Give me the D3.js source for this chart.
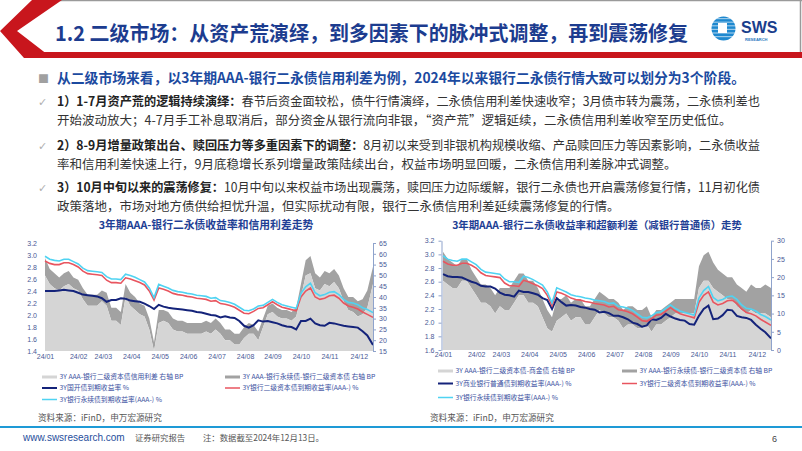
<!DOCTYPE html>
<html><head><meta charset="utf-8">
<script src="https://cdn.jsdelivr.net/npm/d3@7"></script>
<style>
body{margin:0;background:#fff;}
svg{display:block;font-family:"Noto Sans CJK SC","Noto Sans",sans-serif;}
</style>
</head><body><svg id="c" width="802" height="451"></svg>
<script>
// ---------------- DATA ----------------
const days = [0,5,10,15,20,25,30,35,40,45,50,55,60,65,70,75,80,85,90,95,
  100,105,110,115,120,125,130,135,140,145,150,155,160,165,170,175,180,185,190,195,
  200,205,210,215,220,225,230,235,240,245,250,255,260,265,270,275,280,285,290,295,
  300,305,310,315,320,325,330,335,340,346];
const monthTicks = [0,35,61,91,121,151,181,211,240,270,300,331];
const monthLabels = ["24/01","24/02","24/03","24/04","24/05","24/06","24/07","24/08","24/09","24/10","24/11","24/12"];

// 3Y国开债到期收益率 %
const cdbYield = [2.40,2.40,2.40,2.41,2.42,2.41,2.40,2.37,2.34,2.33,2.32,2.31,2.28,2.22,2.25,2.25,2.28,2.27,2.24,2.23,
 2.22,2.19,2.15,2.10,2.17,2.14,2.12,2.11,2.10,2.09,2.08,2.07,2.05,2.04,2.02,2.00,1.99,1.96,1.98,1.96,
 1.95,1.90,1.82,1.79,1.83,1.91,1.89,1.90,1.88,1.86,1.83,1.81,1.80,1.76,1.90,1.90,1.94,1.86,1.83,1.82,
 1.87,1.86,1.84,1.82,1.81,1.80,1.79,1.73,1.66,1.50];
// 3Y银行二级资本债到期收益率(AAA-) %
const tier2Yield = [2.90,2.86,2.84,2.84,2.87,2.87,2.84,2.80,2.73,2.69,2.68,2.67,2.66,2.58,2.54,2.54,2.53,2.62,2.60,2.57,
 2.54,2.50,2.40,2.25,2.45,2.43,2.40,2.36,2.34,2.33,2.31,2.30,2.28,2.27,2.26,2.23,2.24,2.19,2.18,2.16,
 2.13,2.08,2.03,2.02,2.06,2.11,2.12,2.17,2.22,2.17,2.13,2.11,2.09,2.07,2.30,2.40,2.45,2.30,2.26,2.28,
 2.32,2.33,2.28,2.20,2.15,2.13,2.10,2.05,2.01,1.96];
// 3Y银行永续债到期收益率(AAA-) %
const perpYield = [2.98,2.93,2.91,2.90,2.93,2.93,2.89,2.85,2.78,2.74,2.73,2.72,2.71,2.64,2.60,2.60,2.59,2.68,2.66,2.63,
 2.59,2.55,2.45,2.29,2.51,2.48,2.45,2.41,2.39,2.38,2.36,2.35,2.33,2.32,2.31,2.28,2.29,2.24,2.23,2.21,
 2.18,2.13,2.08,2.07,2.10,2.15,2.16,2.21,2.26,2.21,2.17,2.15,2.13,2.11,2.36,2.47,2.53,2.37,2.32,2.34,
 2.38,2.39,2.34,2.26,2.21,2.20,2.17,2.12,2.09,2.04];
// 3Y AAA-银行二级资本债信用利差 (BP, right axis, left chart)
const tier2CreditSpread = [50,46,44,43,45,46,44,43,39,36,36,36,38,36,29,29,27,40,36,34,
 32,31,25,15,28,29,28,25,24,24,23,23,23,23,24,23,25,23,20,20,
 18,18,21,23,23,20,26,32,33,31,30,30,29,31,40,50,51,44,43,46,
 45,47,44,38,34,33,31,32,35,46];
// 3Y AAA-银行永续债-银行二级资本债 (BP)
const perpMinusTier2 = [8,7,7,6,6,6,5,5,5,5,5,5,5,6,6,6,6,6,6,6,
 5,5,5,4,6,5,5,5,5,5,5,5,5,5,5,5,5,5,5,5,
 5,5,5,5,4,4,4,4,4,4,4,4,4,4,6,7,8,7,6,6,
 6,6,6,6,6,7,7,7,8,8];
// 3Y商业银行普通债到期收益率(AAA-) %
const bankBondYield = [2.71,2.68,2.67,2.67,2.66,2.63,2.60,2.58,2.54,2.53,2.53,2.50,2.44,2.41,2.40,2.38,2.47,2.45,2.45,2.43,
 2.41,2.36,2.33,2.20,2.36,2.30,2.25,2.26,2.25,2.23,2.22,2.20,2.19,2.15,2.16,2.14,2.10,2.10,2.08,2.05,
 2.00,1.98,1.94,1.96,2.05,2.04,2.07,2.13,2.09,2.06,2.04,2.03,1.98,1.97,2.10,2.20,2.25,2.05,2.06,2.11,
 2.19,2.18,2.10,2.08,2.07,2.04,1.97,1.91,1.86,1.77];
// 3Y AAA-银行二级资本债-商金债 (BP)
const tier2VsBankSpread = [19,18,17,17,19,19,17,15,13,13,12,10,12,11,11,13,15,15,13,13,
 12,9,6,5,8,9,10,8,9,9,7,7,9,11,10,9,9,8,6,7,
 7,6,6,7,5,7,7,8,9,10,10,10,10,10,17,19,19,17,16,15,
 14,14,12,11,10,11,10,10,10,9];

const leftTicksA = [1.4,1.6,1.8,2.0,2.2,2.4,2.6,2.8,3.0,3.2];
const rightTicksA = [15,20,25,30,35,40,45,50,55,60,65];
const leftTicksB = [1.6,1.8,2.0,2.2,2.4,2.6,2.8,3.0,3.2];
const rightTicksB = [0,5,10,15,20,25,30];

// ---------------- DRAW ----------------
const svg = d3.select("#c");
const C = {navy:"#14237a", red:"#e8555f", sky:"#4fd3f2", lg:"#d5d5d5", dg:"#a2a2a2",
  axis:"#8fa3cc", tick:"#4a5a96", blue:"#1f3f95"};

// header
svg.append("line").attr("x1",60).attr("x2",802).attr("y1",0.5).attr("y2",0.5).attr("stroke","#9a9a9a").attr("stroke-width",1.5);
svg.append("line").attr("x1",800.5).attr("x2",800.5).attr("y1",0).attr("y2",53).attr("stroke","#9a9a9a").attr("stroke-width",1.5);
svg.append("path").attr("d","M32,0 L62,0 L17,31 L52,58 L24,58 L0,31 Z").attr("fill","#c8161d");
svg.append("rect").attr("x",44).attr("y",52).attr("width",758).attr("height",6).attr("fill","#c8161d");
svg.append("text").attr("x",55).attr("y",41).attr("fill","#1c3c8f").attr("font-size",20.5).attr("font-weight",700)
  .attr("textLength",633).attr("lengthAdjust","spacingAndGlyphs")
  .text("1.2 二级市场：从资产荒演绎，到多因素下的脉冲式调整，再到震荡修复");
// logo
const lg = svg.append("g");
lg.append("circle").attr("cx",723.5).attr("cy",28.5).attr("r",12).attr("fill","#1e88cf");
[0,1,2,3,4,5].forEach(i=>lg.append("rect").attr("x",711).attr("y",18+i*3.6).attr("width",25).attr("height",1.2).attr("fill","#ffffff").attr("opacity",0.55));
lg.append("rect").attr("x",718).attr("y",23).attr("width",9).attr("height",10).attr("fill","#fff");
lg.append("text").attr("x",741).attr("y",32.5).attr("fill","#1a3e8c").attr("font-family","Liberation Sans, Arial").attr("font-weight",700).attr("font-size",16).text("SWS");
lg.append("text").attr("x",745).attr("y",40.5).attr("fill","#2a78c0").attr("font-family","Liberation Sans, Arial").attr("font-weight",700).attr("font-size",4).text("RESEARCH");

// text block
svg.append("text").attr("x",38).attr("y",83).attr("fill","#a0a0a0").attr("font-size",11).text("■");
svg.append("text").attr("x",57).attr("y",83).attr("fill","#1b4aa0").attr("font-size",14).attr("font-weight",700)
  .attr("textLength",688).attr("lengthAdjust","spacingAndGlyphs")
  .text("从二级市场来看，以3年期AAA-银行二永债信用利差为例，2024年以来银行二永债行情大致可以划分为3个阶段。");
const items = [
  {y:106, bold:"1）1-7月资产荒的逻辑持续演绎：", l1:"春节后资金面较松，债牛行情演绎，二永债信用利差快速收窄；3月债市转为震荡，二永债利差也",
   l2:"开始波动放大；4-7月手工补息取消后，部分资金从银行流向非银，“资产荒”逻辑延续，二永债信用利差收窄至历史低位。"},
  {y:150, bold:"2）8-9月增量政策出台、赎回压力等多重因素下的调整：", l1:"8月初以来受到非银机构规模收缩、产品赎回压力等因素影响，二永债收益",
   l2:"率和信用利差快速上行，9月底稳增长系列增量政策陆续出台，权益市场明显回暖，二永债信用利差脉冲式调整。"},
  {y:192, bold:"3）10月中旬以来的震荡修复：", l1:"10月中旬以来权益市场出现震荡，赎回压力边际缓解，银行二永债也开启震荡修复行情，11月初化债",
   l2:"政策落地，市场对地方债供给担忧升温，但实际扰动有限，银行二永债信用利差延续震荡修复的行情。"}
];
items.forEach(it=>{
  svg.append("text").attr("x",38).attr("y",it.y).attr("fill","#b0b0b0").attr("font-size",11).attr("font-family","DejaVu Sans").text("✓");
  const t = svg.append("text").attr("x",57).attr("y",it.y).attr("font-size",12.5).attr("fill","#333")
    .attr("textLength",703).attr("lengthAdjust","spacingAndGlyphs");
  t.append("tspan").attr("font-weight",700).attr("fill","#222").text(it.bold);
  t.append("tspan").text(it.l1);
  svg.append("text").attr("x",57).attr("y",it.y+19).attr("font-size",12.5).attr("fill","#333").text(it.l2);
});

function drawChart(o){
  const g = svg.append("g");
  const x = d3.scaleLinear().domain([0,346]).range([o.x0,o.x1]);
  const yL = d3.scaleLinear().domain([o.lTicks[0], o.lTicks[o.lTicks.length-1]]).range([o.yb,o.yt]);
  const yR = d3.scaleLinear().domain([o.rTicks[0], o.rTicks[o.rTicks.length-1]]).range([o.yb,o.yt]);
  const rows = days.map((d,i)=>({d, a:o.spread[i], b:perpMinusTier2[i], n:o.navy[i], r:tier2Yield[i], p:perpYield[i]}));
  g.append("path").datum(rows).attr("fill",C.dg)
    .attr("d", d3.area().x(d=>x(d.d)).y0(d=>yR(d.a)).y1(d=>yR(d.a+d.b)));
  g.append("path").datum(rows).attr("fill",C.lg)
    .attr("d", d3.area().x(d=>x(d.d)).y0(yR(o.rTicks[0])).y1(d=>yR(d.a)));
  const line = key => d3.line().x(d=>x(d.d)).y(d=>yL(d[key]));
  g.append("path").datum(rows).attr("fill","none").attr("stroke",C.navy).attr("stroke-width",2).attr("d",line("n"));
  g.append("path").datum(rows).attr("fill","none").attr("stroke",C.red).attr("stroke-width",1.6).attr("d",line("r"));
  g.append("path").datum(rows).attr("fill","none").attr("stroke",C.sky).attr("stroke-width",1.6).attr("d",line("p"));

  const styleAxis = (a, showLine) => {
    a.selectAll("text").attr("fill",C.tick).attr("font-size",7).attr("font-family","Liberation Sans, Arial");
    a.selectAll("line").attr("stroke",C.axis);
    a.select(".domain").attr("stroke", showLine ? C.axis : "none");
  };
  const la = g.append("g").attr("transform",`translate(${o.x0 - (o.leftLine?1.5:0)},0)`)
    .call(d3.axisLeft(yL).tickValues(o.lTicks).tickFormat(d3.format(".1f")).tickSize(o.leftLine?3:0).tickPadding(o.leftLine?4:8).tickSizeOuter(0));
  styleAxis(la, o.leftLine);
  const ra = g.append("g").attr("transform",`translate(${o.x1},0)`)
    .call(d3.axisRight(yR).tickValues(o.rTicks).tickFormat(d3.format("d")).tickSize(3).tickPadding(3).tickSizeOuter(0));
  styleAxis(ra, true);
  const xa = g.append("g").attr("transform",`translate(0,${o.yb})`)
    .call(d3.axisBottom(x).tickValues(monthTicks).tickFormat((d,i)=>monthLabels[i]).tickSize(0).tickPadding(o.xPad));
  styleAxis(xa, false);

  svg.append("text").attr("x",o.tx).attr("y",o.ty).attr("text-anchor","middle").attr("fill",C.blue)
    .attr("font-size",o.tfs).attr("font-weight",700).text(o.title);

  // legend
  const leg = svg.append("g").attr("font-size",6.8).attr("fill","#3a4fa0");
  o.legend.forEach(L=>{
    leg.append("line").attr("x1",L.x).attr("x2",L.x+15).attr("y1",L.y).attr("y2",L.y)
      .attr("stroke",L.c).attr("stroke-width",L.w);
    leg.append("text").attr("x",L.x+17.5).attr("y",L.y+2.4).attr("fill","#3a4fa0").text(L.t);
  });
  svg.append("text").attr("x",o.srcX).attr("y",421).attr("font-size",8.6).attr("fill","#555").text("资料来源：iFinD，申万宏源研究");
}

drawChart({x0:45, x1:373, yb:351, yt:243, lTicks:leftTicksA, rTicks:rightTicksA, leftLine:false, xPad:3.5,
  navy:cdbYield, spread:tier2CreditSpread, title:"3年期AAA-银行二永债收益率和信用利差走势", tx:206, ty:229, tfs:10.8,
  srcX:38,
  legend:[
    {x:42,y:377,c:C.lg,w:3,t:"3Y AAA-银行二级资本债信用利差 右轴 BP"},
    {x:225,y:377,c:C.dg,w:3,t:"3Y AAA-银行永续债-银行二级资本债 右轴 BP"},
    {x:42,y:388,c:C.navy,w:2,t:"3Y国开债到期收益率 %"},
    {x:225,y:388,c:C.red,w:1.5,t:"3Y银行二级资本债到期收益率(AAA-) %"},
    {x:42,y:399.5,c:C.sky,w:1.5,t:"3Y银行永续债到期收益率(AAA-) %"}
  ]});
drawChart({x0:443, x1:771, yb:350, yt:240.7, lTicks:leftTicksB, rTicks:rightTicksB, leftLine:true, xPad:2,
  navy:bankBondYield, spread:tier2VsBankSpread, title:"3年期AAA-银行二永债收益率和超额利差（减银行普通债）走势", tx:597, ty:229, tfs:10.4,
  srcX:430,
  legend:[
    {x:438,y:371,c:C.lg,w:3,t:"3Y AAA-银行二级资本债-商金债 右轴 BP"},
    {x:622,y:371,c:C.dg,w:3,t:"3Y AAA-银行永续债-银行二级资本债 右轴 BP"},
    {x:438,y:383.5,c:C.navy,w:2,t:"3Y商业银行普通债到期收益率(AAA-) %"},
    {x:622,y:383.5,c:C.red,w:1.5,t:"3Y银行二级资本债到期收益率(AAA-) %"},
    {x:438,y:397.5,c:C.sky,w:1.5,t:"3Y银行永续债到期收益率(AAA-) %"}
  ]});

// footer
svg.append("line").attr("x1",0).attr("x2",802).attr("y1",427).attr("y2",427).attr("stroke","#1e9ad6").attr("stroke-width",2.2);
svg.append("text").attr("x",23).attr("y",441).attr("font-size",10).attr("font-family","Liberation Sans, Arial").attr("fill","#1f4e9c").text("www.swsresearch.com");
svg.append("text").attr("x",135).attr("y",441).attr("font-size",8.4).attr("fill","#555").text("证券研究报告");
svg.append("text").attr("x",203).attr("y",441).attr("font-size",8.4).attr("fill","#555").text("注：数据截至2024年12月13日。");
svg.append("text").attr("x",772).attr("y",442).attr("font-size",9).attr("font-family","Liberation Sans, Arial").attr("fill","#444").text("6");
</script>
</body></html>
